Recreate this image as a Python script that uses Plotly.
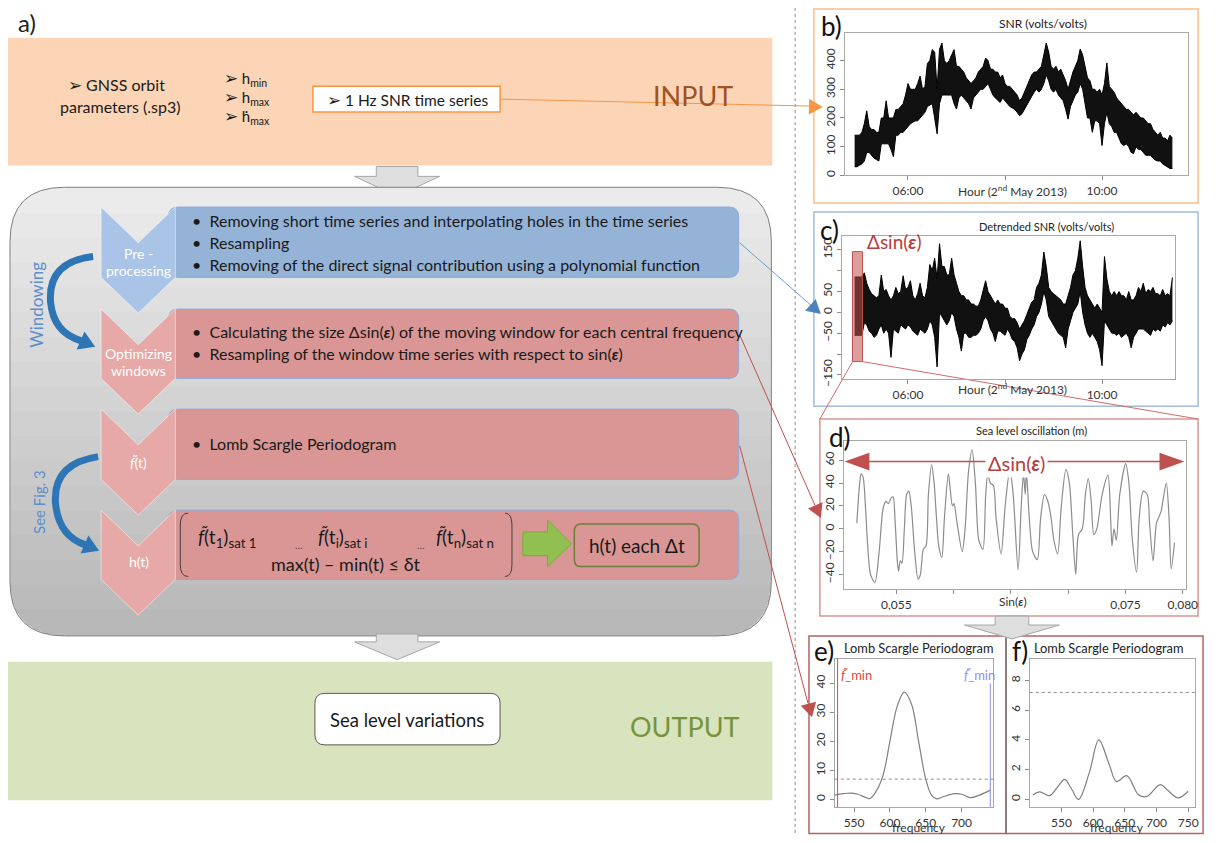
import math
import plotly.graph_objects as go

W, H = 1219, 843          # reference picture size
OFF = 8                    # the page body margin, figure starts at (8, 8)
FW, FH = W - OFF, H - OFF  # figure size
FONT = "Lato, 'Open Sans', sans-serif"

# ---------------- data ----------------
# b) raw SNR band (upper / lower edge), one value every 0.05 h from 04:54
snr_start_hour = 4.90
snr_step_hour = 0.05
snr_upper = [140, 140, 140, 150, 180, 225, 170, 160, 160, 150,
             150, 200, 200, 260, 200, 200, 200, 230, 230, 240,
             250, 280, 320, 300, 300, 300, 320, 346, 300, 310,
             390, 400, 438, 430, 300, 440, 461, 400, 390, 400,
             420, 438, 380, 380, 370, 360, 340, 330, 320, 330,
             340, 360, 370, 380, 409, 400, 370, 370, 360, 360,
             340, 350, 320, 310, 310, 300, 290, 280, 260, 270,
             290, 310, 330, 350, 360, 360, 370, 380, 420, 461,
             430, 380, 370, 380, 360, 370, 350, 330, 300, 330,
             360, 380, 400, 440, 420, 380, 340, 330, 300, 300,
             290, 300, 280, 320, 392, 310, 300, 290, 270, 260,
             250, 240, 230, 230, 220, 210, 220, 210, 200, 200,
             190, 180, 180, 160, 150, 140, 150, 130, 130, 120,
             140, 130]
snr_lower = [30, 30, 35, 40, 50, 80, 80, 70, 60, 55,
             50, 110, 110, 110, 110, 90, 65, 140, 140, 150,
             150, 160, 170, 180, 185, 190, 190, 200, 210, 220,
             240, 245, 250, 200, 145, 250, 280, 280, 280, 280,
             280, 250, 231, 270, 280, 270, 260, 250, 231, 270,
             280, 290, 300, 300, 310, 320, 300, 280, 270, 260,
             254, 270, 260, 250, 240, 235, 230, 220, 208, 215,
             230, 250, 260, 280, 290, 300, 290, 300, 320, 350,
             330, 300, 290, 300, 280, 270, 260, 230, 196, 240,
             260, 280, 290, 320, 300, 250, 200, 200, 150, 190,
             190, 180, 104, 180, 220, 180, 170, 150, 150, 130,
             110, 104, 110, 100, 80, 76, 100, 90, 90, 80,
             70, 70, 70, 60, 53, 50, 50, 40, 35, 30,
             24, 24]

# c) detrended SNR band on the same time grid
det_upper = [85, 85, 85, 85, 95, 70, 55, 45, 40, 35,
             40, 90, 50, 55, 40, 30, 40, 60, 45, 50,
             88, 55, 60, 76, 40, 30, 45, 70, 40, 35,
             60, 115, 100, 130, 80, 165, 110, 110, 90, 90,
             130, 90, 70, 50, 40, 40, 30, 30, 20, 20,
             15, 15, 30, 55, 76, 50, 40, 30, 20, 30,
             20, 20, 10, 10, -10, -15, -15, -25, -40, -30,
             -20, -5, 10, 25, 30, 60, 70, 90, 145, 110,
             60, 50, 45, 40, 35, 30, 20, 20, 40, 60,
             90, 100, 130, 172, 110, 60, 40, 30, 20, 10,
             20, 10, 0, 134, 80, 50, 40, 50, 40, 50,
             40, 40, 30, 50, 30, 30, 40, 60, 50, 70,
             45, 55, 50, 60, 45, 45, 40, 55, 40, 45,
             40, 84]
det_lower = [-55, -55, -55, -55, -25, -30, -45, -50, -60, -55,
             -40, -30, -50, -40, -50, -108, -40, -45, -50, -30,
             -35, -40, -30, -35, -45, -50, -55, -40, -45, -50,
             -40, -20, -30, -60, -131, 0, -10, -20, -30, -20,
             0, -10, -40, -60, -93, -50, -50, -60, -60, -55,
             -55, -50, -40, -20, -10, -20, -40, -50, -70, -45,
             -45, -50, -55, -40, -50, -65, -70, -85, -116, -100,
             -90, -65, -55, -40, -30, -10, 0, 20, 50, 30,
             -10, -20, -30, -40, -50, -55, -60, -85, -40, -20,
             0, 10, 20, 50, 0, -30, -50, -60, -50, -60,
             -70, -90, -128, -20, -30, -40, -50, -50, -55, -50,
             -60, -55, -50, -60, -85, -60, -50, -40, -40, -40,
             -45, -50, -55, -40, -45, -40, -45, -30, -35, -25,
             -30, -20]

# d) sea level oscillation vs sin(elevation)
sea_sin = [0.05155, 0.0518, 0.05192, 0.0521, 0.0523, 0.0525, 0.05275, 0.05313, 0.0535, 0.05385,
           0.0541, 0.0543, 0.05455, 0.05471, 0.0549, 0.0551, 0.0552, 0.05535, 0.05549, 0.0557,
           0.0559, 0.05609, 0.0563, 0.0566, 0.0569, 0.0571, 0.05735, 0.05759, 0.0578, 0.05808,
           0.0583, 0.0585, 0.0587, 0.05897, 0.0592, 0.05954, 0.0597, 0.0599, 0.06003, 0.0603,
           0.06075, 0.0610, 0.0613, 0.06161, 0.0619, 0.0622, 0.06256, 0.0628, 0.06299, 0.0632,
           0.06347, 0.0637, 0.06414, 0.0645, 0.06491, 0.0652, 0.06563, 0.0659, 0.0661, 0.06625,
           0.06635, 0.0666, 0.0669, 0.0673, 0.0676, 0.06793, 0.0682, 0.0685, 0.06875, 0.06908,
           0.0694, 0.0698, 0.0701, 0.0704, 0.07066, 0.0709, 0.07123, 0.0715, 0.07175, 0.0720,
           0.07224, 0.0725, 0.07296, 0.07347, 0.0737, 0.07382, 0.0740, 0.0742, 0.0745, 0.07502,
           0.0753, 0.0756, 0.07597, 0.0762, 0.07655, 0.0769, 0.0771, 0.07741, 0.0777, 0.0779,
           0.0781, 0.07856, 0.0788, 0.07899, 0.07928]
sea_level = [5, 40, 48, 45, 20, -15, -40, -47, -20, 18,
             24, 22, 27, 28, 5, -30, -37, -28, -30, 0,
             30, 33, 20, -20, -44, -40, -18, -15, 30, 56,
             40, 10, -15, -25, 10, 48, 35, 20, 22, 5,
             -20, 0, 50, 69, 40, -10, -18, 30, 48, 40,
             38, 10, -22, 20, 52, 30, -36, 20, 48, 30,
             50, 10, -20, -27, 10, 30, 25, 10, -10, -22,
             20, 52, 40, -5, -40, -5, 0, 30, 44, 25,
             -5, 0, 30, 47, 10, -15, 0, -10, 30, 57,
             40, -10, -38, 10, 33, 30, 5, -28, 5, 10,
             15, 40, 10, -35, -12]

# e) and f) Lomb Scargle periodograms
lsp_e_freq = [523, 535, 545, 555, 565, 572, 580, 590, 600, 610, 620, 630,
              640, 650, 658, 665, 675, 690, 700, 712, 725, 740]
lsp_e_power = [1.5, 2.0, 2.2, 1.8, 0.8, 0.3, 2.5, 8, 20, 32, 37, 33,
               20, 7, 1.5, 0.2, 1.0, 2.0, 1.8, 0.6, 1.5, 3.2]
lsp_f_freq = [505, 516, 531, 545, 555, 566, 577, 594, 609, 625, 637, 653,
              672, 685, 706, 718, 734, 750]
lsp_f_power = [0.3, 0.5, 0.25, 0.9, 1.35, 0.7, 0.0, 1.8, 4.0, 2.4, 1.2, 1.6,
               0.3, 0.2, 1.0, 0.6, 0.1, 0.55]
e_significance = 7.0
f_significance = 7.2
e_fmin_red = 527
e_fmin_blue = 740
e_fmin_blue_top = 40

hour_ticks = [6, 10]
hour_labels = ["06:00", "10:00"]
hour_minor = [8]
sin_ticks = [0.055, 0.075, 0.080]
sin_labels = ["0,055", "0,075", "0,080"]
sin_minor = [0.060, 0.065, 0.070]

hours = [snr_start_hour + snr_step_hour * i for i in range(len(snr_upper))]

# ---------------- helpers (canvas in reference pixel coordinates) ----------------
shapes = []
ann = []


def add_path(d, fill=None, line=None, width=1, layer="below", dash="solid"):
    shapes.append(dict(type="path", path=d, xref="x", yref="y", layer=layer,
                       fillcolor=fill if fill else "rgba(0,0,0,0)",
                       line=dict(color=line if line else "rgba(0,0,0,0)",
                                 width=width if line else 0, dash=dash)))


def add_rect(x0, y0, x1, y1, fill=None, line=None, width=1, layer="below"):
    shapes.append(dict(type="rect", x0=x0, y0=y0, x1=x1, y1=y1, xref="x", yref="y",
                       layer=layer, fillcolor=fill if fill else "rgba(0,0,0,0)",
                       line=dict(color=line if line else "rgba(0,0,0,0)",
                                 width=width if line else 0)))


def add_line(x0, y0, x1, y1, color, width=1, dash="solid", layer="below"):
    shapes.append(dict(type="line", x0=x0, y0=y0, x1=x1, y1=y1, xref="x", yref="y",
                       layer=layer, line=dict(color=color, width=width, dash=dash)))


def rrect(x0, y0, x1, y1, r):
    return (f"M{x0 + r},{y0} L{x1 - r},{y0} Q{x1},{y0} {x1},{y0 + r} L{x1},{y1 - r} "
            f"Q{x1},{y1} {x1 - r},{y1} L{x0 + r},{y1} Q{x0},{y1} {x0},{y1 - r} "
            f"L{x0},{y0 + r} Q{x0},{y0} {x0 + r},{y0} Z")


def bottom_round(x0, y0, x1, y1, r):
    return (f"M{x0},{y0} L{x1},{y0} L{x1},{y1 - r} Q{x1},{y1} {x1 - r},{y1} "
            f"L{x0 + r},{y1} Q{x0},{y1} {x0},{y1 - r} Z")


def chevron(x0, x1, top, bottom, depth):
    cx = (x0 + x1) / 2
    return (f"M{x0},{top} L{cx},{top + depth} L{x1},{top} L{x1},{bottom} "
            f"L{cx},{bottom + depth} L{x0},{bottom} Z")


def head(tx, ty, fx, fy, length=13, half=7):
    dx, dy = tx - fx, ty - fy
    n = math.hypot(dx, dy)
    dx, dy = dx / n, dy / n
    bx, by = tx - length * dx, ty - length * dy
    px, py = -dy, dx
    return (f"M{tx},{ty} L{bx + half * px},{by + half * py} "
            f"L{bx - half * px},{by - half * py} Z")


def down_arrow(cx, y0, rw, hw, rh, th):
    return (f"M{cx - rw},{y0} L{cx + rw},{y0} L{cx + rw},{y0 + rh} L{cx + hw},{y0 + rh} "
            f"L{cx},{y0 + rh + th} L{cx - hw},{y0 + rh} L{cx - rw},{y0 + rh} Z")


def txt(x, y, s, size=14, color="#1a1a1a", xanchor="center", angle=0, **kw):
    ann.append(dict(x=x, y=y, xref="x", yref="y", text=s, showarrow=False,
                    font=dict(family=FONT, size=size, color=color),
                    xanchor=xanchor, yanchor="middle", textangle=angle, **kw))


EPS = "<b><i>ε</i></b>"
FT = "<i>f̃</i>"
ARR = "<span style='font-size:17px'>➢</span>"

# ---------------- left part: flow chart ----------------
txt(27, 23, "a)", size=24, color="#222")

# input band
add_rect(8, 38, 780, 167, fill="#FBD5B5")
txt(118, 85, ARR + " GNSS orbit", 16)
txt(122, 107, "parameters (.sp3)", 16)
txt(224, 79, ARR + " h<sub>min</sub>", 15, xanchor="left")
txt(224, 98, ARR + " h<sub>max</sub>", 15, xanchor="left")
txt(224, 117, ARR + " ḣ<sub>max</sub>", 15, xanchor="left")
add_rect(316, 87, 505, 113, fill="white", line="#F79646", width=1.5)
txt(411, 100, ARR + " 1 Hz SNR time series", 15.5)
txt(700, 96, "INPUT", 27, color="#A0521F")

# grey arrow input -> processing
add_path(down_arrow(401, 168, 21, 43, 10, 20), fill="#DEDEDE", line="#A6A6A6")

# processing frame with a light vertical shading
add_path(rrect(10, 189, 779, 642, 55), fill="#EBEBEB", line="#7F7F7F", width=1)
for ys in range(215, 630, 25):
    add_path(bottom_round(10.5, ys, 778.5, 641.5, 55), fill="rgba(0,0,0,0.011)")

# rows
BLUE_BOX, BLUE_CHEV = "#95B3D7", "#A9C4E6"
PINK_BOX, PINK_CHEV = "#D99694", "#E6A9A7"
EDGE = "#8FAADC"
rows = [(209, 280, BLUE_BOX, BLUE_CHEV), (312, 382, PINK_BOX, PINK_CHEV),
        (413, 484, PINK_BOX, PINK_CHEV), (515, 585, PINK_BOX, PINK_CHEV)]
for top, bot, cbox, cchev in rows:
    add_path(rrect(170, top, 746, bot, 10), fill=cbox, line=EDGE, width=1)
for top, bot, cbox, cchev in rows:
    add_path(chevron(102, 177, top, bot, 36), fill=cchev, line="#FFFFFF", width=0.5)

W_TXT = "#FFFFFF"
txt(140, 256, "Pre -", 14, W_TXT)
txt(140, 273, "processing", 14, W_TXT)
txt(140, 357, "Optimizing", 14, W_TXT)
txt(140, 374, "windows", 14, W_TXT)
txt(140, 467, FT + "(t)", 14, W_TXT)
txt(140, 567, "h(t)", 14, W_TXT)

B = "•\u00a0\u00a0"
txt(192, 223, B + "Removing short time series and interpolating holes in the time series", 16, xanchor="left")
txt(192, 245, B + "Resampling", 16, xanchor="left")
txt(192, 267, B + "Removing of the direct signal contribution using a polynomial function", 16, xanchor="left")
txt(192, 335, B + "Calculating the size Δsin(" + EPS + ") of the moving window for each central frequency", 16, xanchor="left")
txt(192, 357, B + "Resampling of the window time series with respect to sin(" + EPS + ")", 16, xanchor="left")
txt(192, 448, B + "Lomb Scargle Periodogram", 16, xanchor="left")

# matrix row
add_path("M190,518 Q182,518 182,530 L182,570 Q182,582 190,582", line="#404040", width=1)
add_path("M510,518 Q517,518 517,530 L517,570 Q517,582 510,582", line="#404040", width=1)
txt(198, 543, FT + "(t<sub>1</sub>)<sub>sat 1</sub>", 19, xanchor="left")
txt(302, 550, "…", 10, "#444")
txt(319, 543, FT + "(t<sub>i</sub>)<sub>sat i</sub>", 19, xanchor="left")
txt(425, 550, "…", 10, "#444")
txt(438, 543, FT + "(t<sub>n</sub>)<sub>sat n</sub>", 19, xanchor="left")
txt(349, 569, "max(t) – min(t) ≤ δt", 18)
add_path("M528,537 L553,537 L553,525 L577,549 L553,572 L553,561 L528,561 Z",
         fill="#92C050", line="#7EA83F", width=1)
add_path(rrect(580, 529, 706, 572, 7), line="#6E7F3B", width=1.5)
txt(643, 551, "h(t) each Δt", 19)

# curved arrows + side labels
ARROW_BLUE = "#2E75B6"
add_path("M94,259 Q48,264 51,305 Q54,336 82,344", line=ARROW_BLUE, width=7)
add_path(head(96, 350, 82, 344, 16, 10), fill=ARROW_BLUE)
add_path("M99,461 Q53,468 56,508 Q59,541 86,550", line=ARROW_BLUE, width=7)
add_path(head(100, 556, 86, 550, 16, 10), fill=ARROW_BLUE)
txt(36, 308, "Windowing", 17, "#5B8FCB", angle=-90)
txt(40, 507, "See Fig. 3", 15, "#5B8FCB", angle=-90)

# grey arrow processing -> output
add_path(down_arrow(401, 640, 21, 43, 8, 18), fill="#DEDEDE", line="#A6A6A6")

# output band
add_rect(8, 668, 780, 808, fill="#D7E4BD")
add_path(rrect(318, 700, 505, 752, 10), fill="white", line="#595959", width=1)
txt(411, 727, "Sea level variations", 18.5)
txt(691, 733, "OUTPUT", 27, color="#77933C")

# dotted separator
add_line(803, OFF, 803, H, "#8C8C8C", 1, dash="dot")

# ---------------- right part: panel frames ----------------
add_rect(822, 9, 1210, 205, fill="white", line="#F9BE8F", width=1.5)
add_rect(822, 214, 1210, 410, fill="white", line="#A4BCD9", width=1.5)
add_rect(828, 423, 1210, 622, fill="white", line="#D99694", width=1.5)
add_rect(817, 642, 1016, 841.5, fill="white", line="#B56262", width=1.5)
add_rect(1016, 642, 1215, 841.5, fill="white", line="#B56262", width=1.5)
add_line(1016, 642, 1016, 842, "#7F7F7F", 1.5)
add_path(down_arrow(1022, 622, 17, 48, 9, 14), fill="#DEDEDE", line="#A6A6A6", layer="above")

txt(840, 26, "b)", 26, "#111")
txt(838, 232, "c)", 26, "#111")
txt(848, 441, "d)", 26, "#111")
txt(832, 657, "e)", 26, "#111")
txt(1030, 657, "f)", 26, "#111")

txt(1053, 24, "SNR (volts/volts)", 12, "#222")
txt(1057, 229, "Detrended SNR (volts/volts)", 11, "#222")
txt(1042, 435, "Sea level oscillation (m)", 11, "#222")
txt(928, 654, "Lomb Scargle Periodogram", 12.8, "#222")
txt(1120, 654, "Lomb Scargle Periodogram", 12.8, "#222")

txt(1023, 193, "Hour (2<sup>nd</sup> May 2013)", 12, "#333")
txt(1023, 393, "Hour (2<sup>nd</sup> May 2013)", 12, "#333")
txt(1023, 607, "Sin(" + EPS + ")", 12, "#333")
txt(928, 835, "frequency", 12, "#333")
txt(1128, 835, "frequency", 12, "#333")

# connectors
add_line(505, 100, 818, 107, "#F79646", 1)
add_path(head(831, 108, 505, 100, 14, 8), fill="#F79646")
add_line(747, 245, 820, 309, "#6F9BD1", 1)
add_path(head(829, 317, 747, 245, 14, 8), fill="#4F81BD")
add_line(747, 338, 823, 510, "#C0504D", 1)
add_path(head(829, 523, 747, 338, 14, 8), fill="#C0504D")
add_line(747, 450, 816, 710, "#C0504D", 1)
add_path(head(820, 724, 747, 450, 14, 8), fill="#C0504D")
add_line(861, 365, 828, 423, "#D46A6A", 1)
add_line(871, 365, 1210, 423, "#D46A6A", 1)

# window marker in c) and width arrow in d)
add_rect(861, 254, 871, 365, fill="rgba(192,80,77,0.55)", line="#C0504D", width=1, layer="above")
txt(874, 244, "Δsin(" + EPS + ")", 19, "#B5403D", xanchor="left")
add_line(872, 466, 1178, 466, "#C0504D", 1.5, layer="above")
add_path(head(853, 466, 1000, 466, 25, 9), fill="#C0504D", layer="above")
add_path(head(1196, 466, 1000, 466, 25, 9), fill="#C0504D", layer="above")
txt(1027, 467, "Δsin(" + EPS + ")", 20, "#B5403D", bgcolor="white", borderpad=2)

# f_min labels in e)
txt(847, 681, FT + "_min", 13, "#E8433D", xanchor="left")
txt(972, 681, FT + "_min", 13, "#8E8CF0", xanchor="left")

# ---------------- plots ----------------
fig = go.Figure()


def dom_x(l, r):
    return [(l - OFF) / FW, (r - OFF) / FW]


def dom_y(t, b):
    return [1 - (b - OFF) / FH, 1 - (t - OFF) / FH]


frame = dict(showline=True, mirror=True, linecolor="#A8A8A8", linewidth=1,
             ticks="outside", ticklen=4, tickcolor="#8C8C8C", showgrid=False,
             zeroline=False, fixedrange=True,
             tickfont=dict(family=FONT, size=12, color="#333"))
minor_ticks = dict(ticks="outside", ticklen=4, tickcolor="#8C8C8C", showgrid=False)

# b) band
fig.add_trace(go.Scatter(x=hours, y=snr_lower, mode="lines", xaxis="x2", yaxis="y2",
                         line=dict(color="#000000", width=1)))
fig.add_trace(go.Scatter(x=hours, y=snr_upper, mode="lines", xaxis="x2", yaxis="y2",
                         line=dict(color="#000000", width=1), fill="tonexty",
                         fillcolor="#111111"))
# c) band
fig.add_trace(go.Scatter(x=hours, y=det_lower, mode="lines", xaxis="x3", yaxis="y3",
                         line=dict(color="#000000", width=1)))
fig.add_trace(go.Scatter(x=hours, y=det_upper, mode="lines", xaxis="x3", yaxis="y3",
                         line=dict(color="#000000", width=1), fill="tonexty",
                         fillcolor="#111111"))
fig.add_trace(go.Scatter(x=sea_sin, y=sea_level, mode="lines", xaxis="x4", yaxis="y4",
                         line=dict(color="#8C8C8C", width=1.2, shape="spline", smoothing=0.8)))
fig.add_trace(go.Scatter(x=lsp_e_freq, y=lsp_e_power, mode="lines", xaxis="x5", yaxis="y5",
                         line=dict(color="#808080", width=1.2, shape="spline", smoothing=1)))
fig.add_trace(go.Scatter(x=lsp_f_freq, y=lsp_f_power, mode="lines", xaxis="x6", yaxis="y6",
                         line=dict(color="#808080", width=1.2, shape="spline", smoothing=1)))

# significance levels and f_min marks
shapes.append(dict(type="line", xref="x5 domain", yref="y5", x0=0, x1=1,
                   y0=e_significance, y1=e_significance,
                   line=dict(color="#8C8C8C", width=1, dash="dot")))
shapes.append(dict(type="line", xref="x6 domain", yref="y6", x0=0, x1=1,
                   y0=f_significance, y1=f_significance,
                   line=dict(color="#8C8C8C", width=1, dash="dot")))
shapes.append(dict(type="line", xref="x5", yref="y5 domain", x0=e_fmin_red, x1=e_fmin_red,
                   y0=0, y1=1, line=dict(color="#E8433D", width=1)))
shapes.append(dict(type="line", xref="x5", yref="y5", x0=e_fmin_blue, x1=e_fmin_blue,
                   y0=-2.7, y1=e_fmin_blue_top, line=dict(color="#8E8CF0", width=1)))

fig.update_layout(
    width=FW, height=FH, autosize=False,
    margin=dict(l=0, r=0, t=0, b=0),
    paper_bgcolor="white", plot_bgcolor="rgba(0,0,0,0)",
    showlegend=False, hovermode=False,
    xaxis=dict(domain=[0, 1], range=[OFF, W], visible=False, fixedrange=True),
    yaxis=dict(domain=[0, 1], range=[H, OFF], visible=False, fixedrange=True),
    xaxis2=dict(frame, domain=dom_x(853, 1200), range=[4.694, 11.776], anchor="y2",
                tickvals=hour_ticks, ticktext=hour_labels,
                minor=dict(minor_ticks, tickvals=hour_minor)),
    yaxis2=dict(frame, domain=dom_y(33, 177), range=[0, 497], anchor="x2",
                tickvals=[0, 100, 200, 300, 400], tickangle=-90),
    xaxis3=dict(frame, domain=dom_x(850, 1187), range=[4.633, 11.51], anchor="y3",
                tickvals=hour_ticks, ticktext=hour_labels,
                minor=dict(minor_ticks, tickvals=hour_minor)),
    yaxis3=dict(frame, domain=dom_y(238, 383), range=[-161, 184], anchor="x3",
                tickvals=[-150, -50, 0, 50, 150], tickangle=-90,
                minor=dict(minor_ticks, tickvals=[-100, 100])),
    xaxis4=dict(frame, domain=dom_x(852, 1198), range=[0.0504, 0.0803], anchor="y4",
                tickvals=sin_ticks, ticktext=sin_labels,
                minor=dict(minor_ticks, tickvals=sin_minor)),
    yaxis4=dict(frame, domain=dom_y(445, 595), range=[-53, 77], anchor="x4",
                tickvals=[-40, -20, 0, 20, 40, 60], tickangle=-90),
    xaxis5=dict(frame, domain=dom_x(843, 1003), range=[523, 744], anchor="y5",
                tickvals=[550, 600, 650, 700]),
    yaxis5=dict(frame, domain=dom_y(665, 815), range=[-2.7, 48.5], anchor="x5",
                tickvals=[0, 10, 20, 30, 40], tickangle=-90),
    xaxis6=dict(frame, domain=dom_x(1040, 1207), range=[500, 761], anchor="y6",
                tickvals=[550, 600, 650, 700, 750]),
    yaxis6=dict(frame, domain=dom_y(665, 815), range=[-0.53, 9.47], anchor="x6",
                tickvals=[0, 2, 4, 6, 8], tickangle=-90),
    shapes=shapes,
    annotations=ann,
)

fig.write_html("out.html")
